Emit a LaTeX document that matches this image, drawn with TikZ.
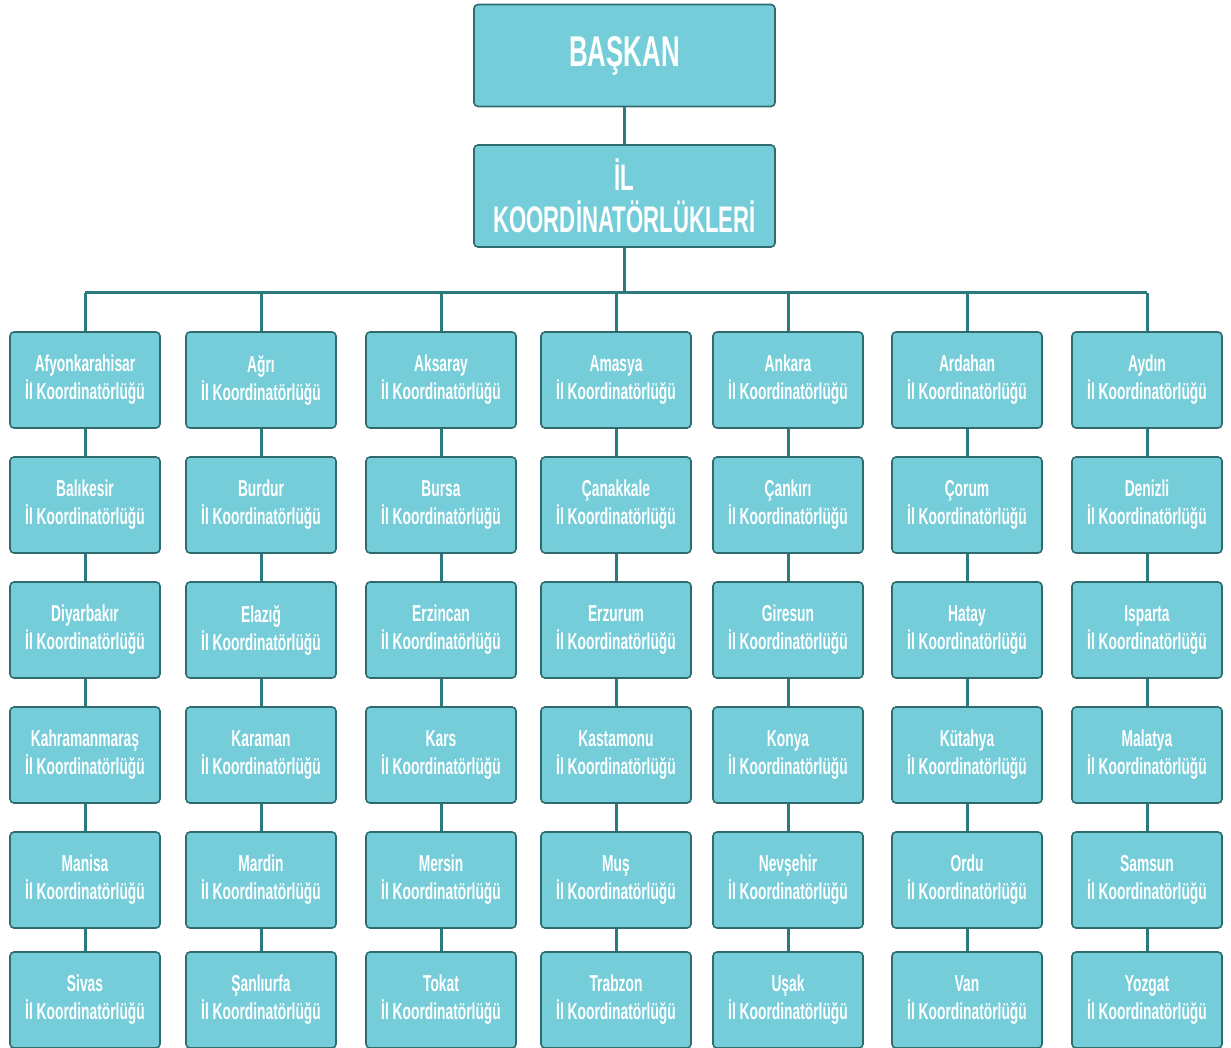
\documentclass[tikz,border=0pt]{standalone}
\usepackage{fontspec}
\newfontfamily\boxfont[FakeStretch=0.6, BoldFont={Liberation Sans Bold}, BoldFeatures={FakeStretch=0.6}]{Liberation Sans}
\definecolor{kutu}{HTML}{74CDD9}
\definecolor{kenar}{HTML}{2F6B6E}
\definecolor{hat}{HTML}{2A7A7E}
\tikzset{
  kutu/.style={draw=kenar, line width=1.6pt, fill=kutu, rounded corners=4pt,
    minimum width=150pt, minimum height=96pt, inner sep=0pt, align=center,
    text=white, font=\boxfont\bfseries\fontsize{23}{28}\selectfont},
  ust/.style={kutu, minimum width=301pt, minimum height=102pt},
  hat/.style={draw=hat, line width=3pt}
}
\begin{document}
\begin{tikzpicture}[x=1pt,y=-1pt]
\useasboundingbox (0,0) rectangle (1231,1048);
\node[ust, font=\boxfont\bfseries\fontsize{43}{46}\selectfont] (baskan) at (624.5,55.5) {BAŞKAN};
\node[ust, font=\boxfont\bfseries\fontsize{37}{42}\selectfont] (ilkoord) at (624.5,196) {İL\\KOORDİNATÖRLÜKLERİ};
\draw[hat] (baskan) -- (ilkoord);
\coordinate (bus) at (624.5,293);

% iller, sutun sutun
\foreach \s/\x/\iller in {
  0/85/{Afyonkarahisar,Balıkesir,Diyarbakır,Kahramanmaraş,Manisa,Sivas},
  1/261/{Ağrı,Burdur,Elazığ,Karaman,Mardin,Şanlıurfa},
  2/441/{Aksaray,Bursa,Erzincan,Kars,Mersin,Tokat},
  3/616/{Amasya,Çanakkale,Erzurum,Kastamonu,Muş,Trabzon},
  4/788/{Ankara,Çankırı,Giresun,Konya,Nevşehir,Uşak},
  5/967/{Ardahan,Çorum,Hatay,Kütahya,Ordu,Van},
  6/1147/{Aydın,Denizli,Isparta,Malatya,Samsun,Yozgat}}
{
  \foreach \il [count=\r] in \iller {
    \pgfmathsetmacro\yy{\r<6 ? 380+(\r-1)*125 : 1000}
    \node[kutu] (c\s-\r) at (\x,\yy) {\il\\İl Koordinatörlüğü};
  }
  \foreach \r [evaluate=\r as \q using int(\r+1)] in {1,...,5}
    \draw[hat] (c\s-\r) -- (c\s-\q);
  \draw[hat] (c\s-1.north) -- (c\s-1.north |- bus);
}
\draw[hat] (ilkoord) -- (bus);
\draw[hat] (c0-1.north |- bus) -- (c6-1.north |- bus);

\end{tikzpicture}
\end{document}
